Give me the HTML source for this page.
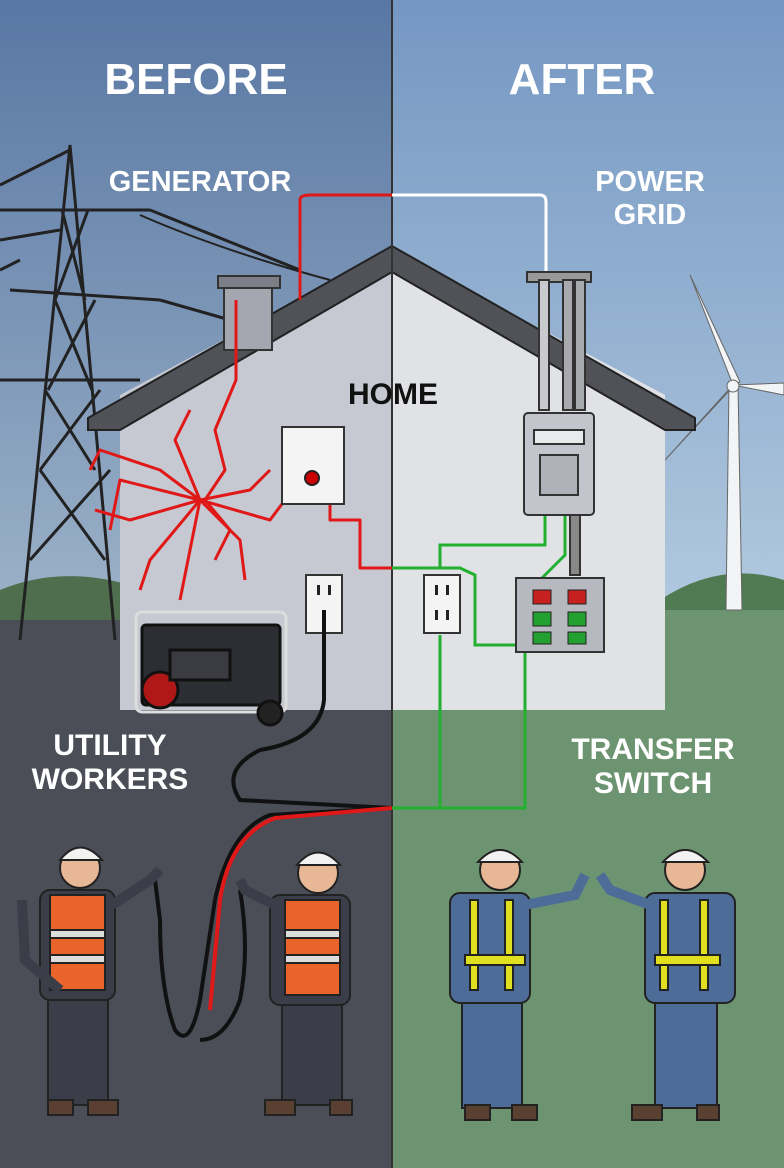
<!DOCTYPE html>
<html><head><meta charset="utf-8"><style>
html,body{margin:0;padding:0;width:784px;height:1168px;overflow:hidden}
svg{display:block}
text{font-family:"Liberation Sans",sans-serif;font-weight:bold}
</style></head><body>
<svg width="784" height="1168" viewBox="0 0 784 1168" xmlns="http://www.w3.org/2000/svg">
<defs>
<linearGradient id="skyL" x1="0" y1="0" x2="0" y2="1"><stop offset="0" stop-color="#5877a3"/><stop offset="1" stop-color="#9fb4ca"/></linearGradient>
<linearGradient id="skyR" x1="0" y1="0" x2="0" y2="1"><stop offset="0" stop-color="#7497c2"/><stop offset="1" stop-color="#b4cbe0"/></linearGradient>
</defs>
<rect x="0" y="0" width="392" height="640" fill="url(#skyL)"/>
<rect x="392" y="0" width="392" height="640" fill="url(#skyR)"/>
<!-- hills -->
<path d="M0 590 Q60 565 130 585 L130 640 L0 640Z" fill="#4f6e4e"/>
<path d="M660 600 Q720 560 784 580 L784 640 L660 640Z" fill="#4f7a52"/>
<!-- ground -->
<rect x="0" y="620" width="392" height="548" fill="#4b4d57"/>
<rect x="392" y="610" width="392" height="558" fill="#6d9470"/>
<!-- tower -->
<g stroke="#222" stroke-width="3" fill="none">
<path d="M20 640 L70 145 L115 640"/>
<path d="M0 210 L150 210 M10 290 L160 300 M0 380 L140 380"/>
<path d="M30 560 L110 470 M105 560 L40 470 M40 470 L100 390 M95 470 L45 390 M48 390 L95 300 M92 390 L55 300 M55 300 L88 210 M85 300 L62 210"/>
<path d="M0 185 L70 150 M0 240 L60 230 M150 210 L300 270 M160 300 L230 320 M0 270 L20 260"/>
<path d="M140 215 Q220 250 330 280" stroke-width="2"/>
</g>
<!-- wind turbine -->
<g fill="#f2f4f6" stroke="#666" stroke-width="1">
<path d="M729 385 L738 385 L742 610 L726 610Z"/>
<path d="M733 385 L690 275 L740 382Z"/>
<path d="M733 385 L784 395 L784 383Z"/>
<path d="M733 385 L665 460 L730 390Z"/>
<circle cx="733" cy="386" r="6"/>
</g>
<!-- house -->
<rect x="120" y="395" width="272" height="315" fill="#c6c9d1"/>
<rect x="392" y="395" width="273" height="315" fill="#e0e2e6"/>
<path d="M392 258 L120 410 L120 395 L392 250Z" fill="#c6c9d1"/>
<path d="M392 258 L665 410 L665 395 L392 250Z" fill="#e0e2e6"/>
<path d="M120 410 L392 258 L392 410 L120 420Z" fill="#c6c9d1"/>
<path d="M392 258 L665 410 L665 420 L392 420Z" fill="#e0e2e6"/>
<path d="M88 418 L392 246 L695 418 L695 430 L665 430 L392 272 L120 430 L88 430Z" fill="#505258" stroke="#222" stroke-width="2"/>
<rect x="224" y="285" width="48" height="65" fill="#a4a7af" stroke="#333" stroke-width="2"/>
<rect x="218" y="276" width="62" height="12" fill="#7c7f88" stroke="#333" stroke-width="2"/>
<line x1="392" y1="0" x2="392" y2="1168" stroke="#333" stroke-width="2"/>
<!-- red chaotic lines -->
<g stroke="#e01818" stroke-width="3" fill="none" stroke-linejoin="round">
<path d="M300 300 L300 200 Q300 195 310 195 L392 195"/>
<path d="M236 300 L236 380 L215 430 L225 470 L205 500 L230 530 L215 560"/>
<path d="M200 500 L160 470 L100 450 L90 470 M200 500 L130 520 L95 510 M200 500 L150 560 L140 590 M200 500 L250 490 L270 470 M200 500 L240 540 L245 580 M200 500 L175 440 L190 410 M200 500 L120 480 L110 530 M200 500 L180 600 M200 500 L270 520 L300 480"/>
<path d="M315 480 L330 490 L330 520 L360 520 L360 568 L392 568"/>
</g>
<path d="M392 195 L540 195 Q546 195 546 202 L546 410" stroke="#fff" stroke-width="3" fill="none"/>
<!-- outlet plate left upper -->
<rect x="282" y="427" width="62" height="77" fill="#f4f4f4" stroke="#333" stroke-width="2"/>
<circle cx="312" cy="478" r="7" fill="#c00" stroke="#222" stroke-width="2"/>
<!-- outlets -->
<g stroke="#333" stroke-width="2">
<rect x="306" y="575" width="36" height="58" fill="#f4f4f4"/>
<rect x="424" y="575" width="36" height="58" fill="#f4f4f4"/>
</g>
<g fill="#222">
<rect x="317" y="585" width="3" height="10"/><rect x="328" y="585" width="3" height="10"/>
<rect x="435" y="585" width="3" height="10"/><rect x="446" y="585" width="3" height="10"/>
<rect x="435" y="610" width="3" height="10"/><rect x="446" y="610" width="3" height="10"/>
</g>
<!-- green wiring -->
<g stroke="#22b030" stroke-width="3" fill="none">
<path d="M392 568 L460 568 L475 575 L475 645 L520 645"/>
<path d="M440 635 L440 808 L392 808"/>
<path d="M392 808 L525 808 L525 650"/>
<path d="M440 568 L440 545 L545 545 L545 515"/>
<path d="M565 515 L565 555 L540 580"/>
</g>
<!-- meter and pipes -->
<g stroke="#333" stroke-width="2">
<rect x="527" y="272" width="64" height="10" fill="#999"/>
<rect x="539" y="280" width="10" height="130" fill="#c8cacd"/>
<rect x="563" y="280" width="10" height="130" fill="#a8aaae"/>
<rect x="575" y="280" width="10" height="130" fill="#a8aaae"/>
<rect x="524" y="413" width="70" height="102" rx="4" fill="#c2c6cc"/>
<rect x="534" y="430" width="50" height="14" fill="#e8eaec"/>
<rect x="540" y="455" width="38" height="40" fill="#aeb2b8"/>
<rect x="570" y="515" width="10" height="60" fill="#888"/>
<rect x="516" y="578" width="88" height="74" fill="#b6b9bf"/>
</g>
<g stroke="#222" stroke-width="1">
<rect x="533" y="590" width="18" height="14" fill="#c62020"/><rect x="568" y="590" width="18" height="14" fill="#c62020"/>
<rect x="533" y="612" width="18" height="14" fill="#22a030"/><rect x="568" y="612" width="18" height="14" fill="#22a030"/>
<rect x="533" y="632" width="18" height="12" fill="#22a030"/><rect x="568" y="632" width="18" height="12" fill="#22a030"/>
</g>
<!-- generator -->
<g stroke="#111" stroke-width="3">
<rect x="136" y="612" width="150" height="100" rx="6" fill="none" stroke="#ddd"/>
<rect x="142" y="625" width="138" height="80" rx="4" fill="#2c2e34"/>
<circle cx="160" cy="690" r="18" fill="#b01818"/>
<circle cx="270" cy="713" r="12" fill="#222"/>
<rect x="170" y="650" width="60" height="30" fill="#3a3c42"/>
</g>
<!-- black cord -->
<path d="M324 610 L324 700 Q320 740 260 750 Q220 770 240 800 L392 808" stroke="#111" stroke-width="4" fill="none"/>
<path d="M392 808 L270 815 Q230 830 215 900 L200 1000 Q190 1050 175 1030 Q160 990 160 920 L155 880" stroke="#111" stroke-width="4" fill="none"/>
<path d="M392 808 L275 818 Q230 835 220 900 L210 1010" stroke="#e01818" stroke-width="4" fill="none"/>
<path d="M240 890 Q250 950 240 1000 Q225 1040 200 1040" stroke="#111" stroke-width="4" fill="none"/>
<!-- workers -->
<g stroke="#222" stroke-width="2">
<!-- left worker 1 -->
<rect x="40" y="890" width="75" height="110" rx="10" fill="#3b3e48"/>
<rect x="50" y="895" width="55" height="95" fill="#e8642a"/>
<rect x="50" y="930" width="55" height="8" fill="#ddd"/><rect x="50" y="955" width="55" height="8" fill="#ddd"/>
<rect x="48" y="1000" width="60" height="105" fill="#3b3e48"/>
<rect x="48" y="1100" width="25" height="15" fill="#5a4030"/><rect x="88" y="1100" width="30" height="15" fill="#5a4030"/>
<path d="M112 905 L150 880 L160 870" fill="none" stroke-width="10" stroke="#3b3e48"/>
<circle cx="80" cy="868" r="20" fill="#e8b896"/>
<path d="M60 860 Q80 835 102 860Z" fill="#f2f2f2"/>
<path d="M22 900 L25 960 L60 990" fill="none" stroke="#3b3e48" stroke-width="10"/>
<!-- left worker 2 -->
<rect x="270" y="895" width="80" height="110" rx="10" fill="#3b3e48"/>
<rect x="285" y="900" width="55" height="95" fill="#e8642a"/>
<rect x="285" y="930" width="55" height="8" fill="#ddd"/><rect x="285" y="955" width="55" height="8" fill="#ddd"/>
<rect x="282" y="1005" width="60" height="100" fill="#3b3e48"/>
<rect x="265" y="1100" width="30" height="15" fill="#5a4030"/><rect x="330" y="1100" width="22" height="15" fill="#5a4030"/>
<path d="M275 905 L245 890 L240 880" fill="none" stroke-width="10" stroke="#3b3e48"/>
<circle cx="318" cy="873" r="20" fill="#e8b896"/>
<path d="M297 865 Q318 840 340 865Z" fill="#f2f2f2"/>
<!-- right worker 1 -->
<rect x="450" y="893" width="80" height="110" rx="10" fill="#4d6c98"/>
<rect x="470" y="900" width="8" height="90" fill="#e0e020"/><rect x="505" y="900" width="8" height="90" fill="#e0e020"/>
<rect x="465" y="955" width="60" height="10" fill="#e0e020"/>
<rect x="462" y="1003" width="60" height="105" fill="#4d6c98"/>
<rect x="465" y="1105" width="25" height="15" fill="#5a4030"/><rect x="512" y="1105" width="25" height="15" fill="#5a4030"/>
<path d="M525 905 L575 895 L585 875" fill="none" stroke-width="10" stroke="#4d6c98"/>
<circle cx="500" cy="870" r="20" fill="#e8b896"/>
<path d="M478 862 Q500 838 522 862Z" fill="#f2f2f2"/>
<!-- right worker 2 -->
<rect x="645" y="893" width="90" height="110" rx="10" fill="#4d6c98"/>
<rect x="660" y="900" width="8" height="90" fill="#e0e020"/><rect x="700" y="900" width="8" height="90" fill="#e0e020"/>
<rect x="655" y="955" width="65" height="10" fill="#e0e020"/>
<rect x="655" y="1003" width="62" height="105" fill="#4d6c98"/>
<rect x="632" y="1105" width="30" height="15" fill="#5a4030"/><rect x="697" y="1105" width="22" height="15" fill="#5a4030"/>
<path d="M650 905 L610 890 L600 875" fill="none" stroke-width="10" stroke="#4d6c98"/>
<circle cx="685" cy="870" r="20" fill="#e8b896"/>
<path d="M663 862 Q685 838 708 862Z" fill="#f2f2f2"/>
</g>
<!-- labels -->
<g fill="#fff" text-anchor="middle">
<text x="196" y="94" font-size="44">BEFORE</text>
<text x="582" y="94" font-size="44">AFTER</text>
<text x="200" y="191" font-size="29">GENERATOR</text>
<text x="650" y="191" font-size="29">POWER</text>
<text x="650" y="224" font-size="29">GRID</text>
<text x="110" y="755" font-size="30">UTILITY</text>
<text x="110" y="789" font-size="30">WORKERS</text>
<text x="653" y="759" font-size="30">TRANSFER</text>
<text x="653" y="793" font-size="30">SWITCH</text>
</g>
<text x="393" y="404" font-size="30" fill="#111" text-anchor="middle">HOME</text>
</svg>
</body></html>
